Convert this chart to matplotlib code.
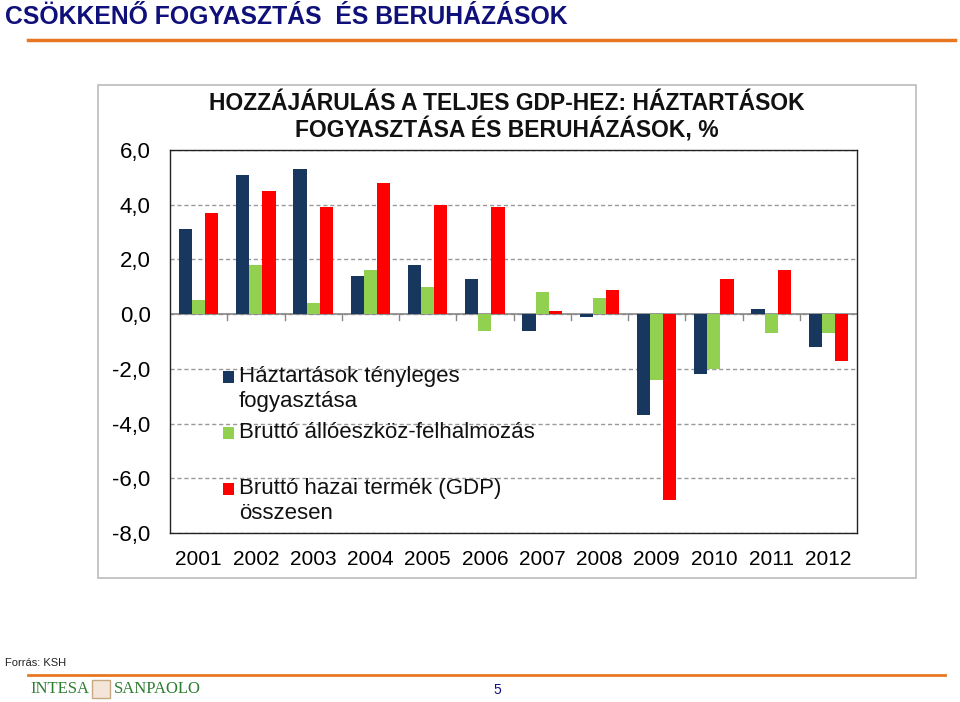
import numpy as np
import matplotlib
matplotlib.use('Agg')
from matplotlib import pyplot as plt
from matplotlib.patches import Rectangle
from matplotlib.lines import Line2D

plt.rcParams['font.family'] = ['Liberation Sans Narrow', 'Liberation Sans', 'DejaVu Sans']

# data
years = ['2001', '2002', '2003', '2004', '2005', '2006',
         '2007', '2008', '2009', '2010', '2011', '2012']
haztartas = [3.1, 5.1, 5.3, 1.4, 1.8, 1.3, -0.6, -0.1, -3.7, -2.2, 0.2, -1.2]
beruhazas = [0.5, 1.8, 0.4, 1.6, 1.0, -0.6, 0.8, 0.6, -2.4, -2.0, -0.7, -0.7]
gdp = [3.7, 4.5, 3.9, 4.8, 4.0, 3.9, 0.1, 0.9, -6.8, 1.3, 1.6, -1.7]
labels = ['Háztartások tényleges\nfogyasztása',
          'Bruttó állóeszköz-felhalmozás',
          'Bruttó hazai termék (GDP)\nösszesen']
colors = ['#17375E', '#92D050', '#FF0000']

W, H = 960, 702
fig = plt.figure(figsize=(9.6, 7.02), dpi=100)


def fx(px):
    return px / W


def fy(py):
    return 1 - py / H


# page header
fig.text(0.005, fy(17), 'CSÖKKENŐ FOGYASZTÁS  ÉS BERUHÁZÁSOK', fontsize=17.8,
         fontweight='bold', color='#10107A', va='center', ha='left')
fig.add_artist(Line2D([fx(28), fx(955)], [fy(40)] * 2,
                      color='#E87722', lw=2.5, transform=fig.transFigure))

# chart frame
fig.add_artist(Rectangle((fx(98), fy(578)), 818 / W, 493 / H,
                         transform=fig.transFigure, fill=False,
                         edgecolor='#BBBBBB', lw=1.2))
fig.text(fx(507), fy(103), 'HOZZÁJÁRULÁS A TELJES GDP-HEZ: HÁZTARTÁSOK',
         fontsize=16.5, fontweight='bold', color='#111111', ha='center', va='center')
fig.text(fx(507), fy(130), 'FOGYASZTÁSA ÉS BERUHÁZÁSOK, %',
         fontsize=16.5, fontweight='bold', color='#111111', ha='center', va='center')

ax = fig.add_axes([fx(170), fy(533), 687 / W, 383 / H])
x = np.arange(len(years))
w = 0.23
for i, (vals, col) in enumerate(zip([haztartas, beruhazas, gdp], colors)):
    ax.bar(x + (i - 1) * w, vals, w, color=col, zorder=3)

ax.set_xlim(-0.5, len(years) - 0.5)
ax.set_ylim(-8, 6)
ticks = np.arange(-8, 6.1, 2)
ax.set_yticks(ticks)
ax.set_yticklabels([f'{v:.1f}'.replace('.', ',') for v in ticks], fontsize=16)
ax.set_xticks(x)
ax.set_xticklabels(years, fontsize=15)
ax.tick_params(axis='x', length=0, pad=12)
ax.tick_params(axis='y', length=0, pad=14)
ax.yaxis.grid(True, linestyle=(0, (3, 2)), color='#999999', lw=1)
ax.set_axisbelow(True)
for s in ax.spines.values():
    s.set_color('#222222')
    s.set_linewidth(1)

# zero axis with category ticks
ax.axhline(0, color='#888888', lw=1.2, zorder=2)
for b in np.arange(0.5, len(years) - 0.5, 1):
    ax.plot([b, b], [0, -0.22], color='#888888', lw=1, zorder=2)

# legend, laid out like the original (fixed slots)
for col, lab, yy in zip(colors, labels, [377, 433, 489]):
    fig.add_artist(Rectangle((fx(223), fy(yy + 6)), 11 / W, 12 / H,
                             transform=fig.transFigure, facecolor=col,
                             edgecolor='none'))
    fig.text(fx(239), fy(yy - 11), lab, fontsize=16, color='#111111',
             va='top', ha='left', linespacing=1.25)

# footer
fig.text(0.005, fy(663), 'Forrás: KSH', fontsize=8, color='#222222', va='center')
fig.add_artist(Line2D([fx(28), fx(945)], [fy(675)] * 2,
                      color='#E87722', lw=2, transform=fig.transFigure))
fig.text(fx(30), fy(689), 'INTESA', fontsize=12, color='#2E7D32',
         va='center', family=['Liberation Serif', 'DejaVu Serif'])
fig.add_artist(Rectangle((fx(92), fy(698)), 18 / W, 18 / H,
                         transform=fig.transFigure, facecolor='#F3E6D8',
                         edgecolor='#C8A882', lw=1))
fig.text(fx(114), fy(689), 'SANPAOLO', fontsize=12, color='#2E7D32',
         va='center', family=['Liberation Serif', 'DejaVu Serif'])
fig.text(fx(497), fy(690), '5', fontsize=10, color='#10107A',
         va='center', ha='center')

fig.savefig('out.png', dpi=100)
